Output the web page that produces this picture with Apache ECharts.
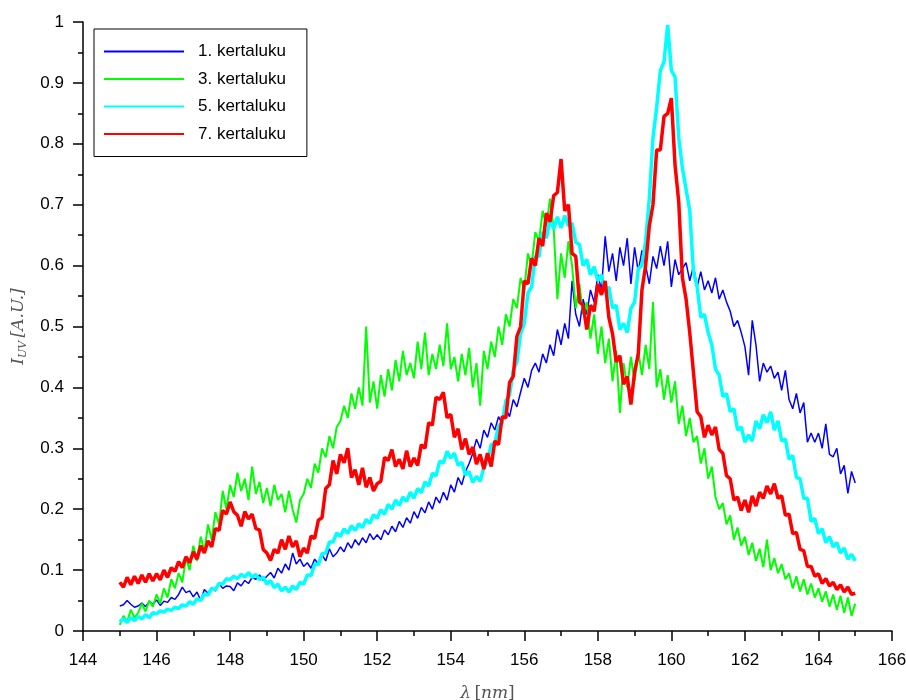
<!DOCTYPE html>
<html>
<head>
<meta charset="utf-8">
<script src="https://cdn.jsdelivr.net/npm/echarts@6/dist/echarts.min.js"></script>
<style>html,body{margin:0;padding:0;background:#fff}#c{width:906px;height:700px}</style>
</head>
<body>
<div id="c"></div>
<script>
// Sampling grid of the spectra (nm)
const wavelengthStart = 145.0;
const wavelengthStep = 0.1;

const seriesNames = ['1. kertaluku', '3. kertaluku', '5. kertaluku', '7. kertaluku'];

// 1. kertaluku (rows = 1 nm each, 145.0 ... 165.0)
const order1 = [
0.041,0.043,0.050,0.044,0.039,0.041,0.046,0.040,0.048,0.044,
0.051,0.042,0.049,0.047,0.055,0.052,0.060,0.072,0.063,0.066,
0.056,0.064,0.050,0.068,0.062,0.071,0.066,0.078,0.070,0.074,
0.073,0.066,0.079,0.074,0.083,0.078,0.088,0.085,0.092,0.083,
0.090,0.096,0.087,0.103,0.095,0.110,0.100,0.128,0.110,0.118,
0.106,0.112,0.103,0.118,0.110,0.125,0.115,0.135,0.122,0.128,
0.138,0.130,0.145,0.136,0.150,0.141,0.153,0.145,0.160,0.150,
0.158,0.150,0.166,0.158,0.172,0.163,0.180,0.170,0.186,0.177,
0.196,0.185,0.203,0.194,0.212,0.200,0.220,0.210,0.228,0.215,
0.240,0.228,0.252,0.240,0.262,0.275,0.292,0.315,0.300,0.330,
0.318,0.342,0.330,0.352,0.340,0.365,0.352,0.380,0.368,0.392,
0.415,0.400,0.428,0.440,0.425,0.455,0.440,0.470,0.452,0.495,
0.470,0.505,0.480,0.575,0.520,0.500,0.545,0.520,0.560,0.540,
0.585,0.560,0.648,0.590,0.620,0.575,0.630,0.600,0.645,0.570,
0.630,0.590,0.625,0.600,0.570,0.615,0.595,0.632,0.600,0.640,
0.565,0.610,0.585,0.595,0.605,0.575,0.600,0.565,0.590,0.560,
0.575,0.555,0.580,0.545,0.560,0.540,0.525,0.500,0.510,0.490,
0.467,0.420,0.510,0.470,0.410,0.440,0.425,0.435,0.415,0.425,
0.395,0.428,0.380,0.365,0.390,0.358,0.375,0.310,0.325,0.310,
0.325,0.300,0.340,0.290,0.286,0.300,0.258,0.272,0.226,0.262,
0.243];

// 3. kertaluku
const order3 = [
0.010,0.025,0.015,0.035,0.022,0.030,0.045,0.032,0.050,0.040,
0.060,0.045,0.070,0.055,0.085,0.070,0.095,0.080,0.120,0.100,
0.140,0.115,0.155,0.130,0.175,0.150,0.195,0.175,0.230,0.200,
0.240,0.220,0.260,0.230,0.250,0.215,0.270,0.225,0.245,0.210,
0.235,0.205,0.240,0.215,0.225,0.195,0.230,0.200,0.178,0.215,
0.225,0.250,0.235,0.275,0.260,0.300,0.285,0.320,0.300,0.335,
0.345,0.370,0.350,0.390,0.365,0.400,0.370,0.500,0.375,0.410,
0.365,0.420,0.385,0.430,0.395,0.445,0.410,0.460,0.420,0.440,
0.415,0.475,0.430,0.490,0.420,0.455,0.430,0.470,0.435,0.505,
0.430,0.450,0.410,0.455,0.420,0.465,0.400,0.440,0.370,0.460,
0.430,0.475,0.450,0.500,0.470,0.520,0.500,0.545,0.530,0.580,
0.560,0.620,0.600,0.655,0.640,0.690,0.665,0.710,0.660,0.545,
0.620,0.580,0.640,0.600,0.530,0.570,0.520,0.540,0.480,0.520,
0.455,0.500,0.440,0.480,0.410,0.460,0.358,0.440,0.400,0.450,
0.410,0.460,0.420,0.470,0.430,0.540,0.400,0.430,0.380,0.420,
0.375,0.410,0.340,0.370,0.320,0.350,0.310,0.320,0.275,0.300,
0.250,0.270,0.220,0.200,0.210,0.175,0.190,0.150,0.170,0.140,
0.155,0.125,0.145,0.115,0.135,0.105,0.150,0.100,0.120,0.095,
0.110,0.085,0.095,0.070,0.090,0.065,0.085,0.060,0.078,0.055,
0.070,0.048,0.065,0.040,0.060,0.035,0.058,0.030,0.055,0.025,
0.045];

// 5. kertaluku
const order5 = [
0.015,0.020,0.014,0.022,0.017,0.024,0.020,0.027,0.022,0.030,
0.028,0.033,0.031,0.036,0.034,0.039,0.037,0.043,0.041,0.048,
0.044,0.053,0.050,0.061,0.059,0.070,0.068,0.078,0.077,0.086,
0.084,0.090,0.086,0.093,0.089,0.096,0.088,0.093,0.084,0.089,
0.077,0.083,0.071,0.077,0.066,0.072,0.064,0.074,0.068,0.080,
0.077,0.092,0.091,0.110,0.109,0.127,0.128,0.146,0.146,0.161,
0.155,0.168,0.160,0.173,0.165,0.176,0.170,0.183,0.177,0.191,
0.185,0.199,0.192,0.208,0.200,0.215,0.206,0.220,0.213,0.228,
0.218,0.234,0.227,0.245,0.238,0.259,0.255,0.279,0.276,0.295,
0.284,0.292,0.272,0.277,0.256,0.262,0.244,0.254,0.246,0.268,
0.278,0.306,0.308,0.337,0.342,0.378,0.387,0.428,0.442,0.488,
0.505,0.555,0.565,0.615,0.615,0.655,0.645,0.675,0.660,0.680,
0.662,0.682,0.665,0.670,0.638,0.635,0.600,0.610,0.585,0.598,
0.575,0.585,0.555,0.565,0.530,0.535,0.495,0.505,0.490,0.530,
0.540,0.595,0.600,0.640,0.710,0.810,0.860,0.920,0.935,0.995,
0.920,0.910,0.810,0.760,0.725,0.690,0.590,0.565,0.515,0.520,
0.490,0.470,0.430,0.420,0.385,0.390,0.360,0.365,0.330,0.335,
0.310,0.322,0.312,0.345,0.332,0.355,0.342,0.360,0.330,0.345,
0.312,0.315,0.282,0.288,0.252,0.250,0.218,0.218,0.180,0.185,
0.160,0.168,0.145,0.155,0.138,0.145,0.128,0.136,0.118,0.126,
0.115];

// 7. kertaluku
const order7 = [
0.080,0.072,0.088,0.076,0.090,0.078,0.092,0.080,0.094,0.082,
0.094,0.084,0.100,0.088,0.104,0.098,0.114,0.104,0.122,0.112,
0.130,0.118,0.140,0.128,0.148,0.138,0.168,0.165,0.198,0.192,
0.212,0.196,0.190,0.172,0.196,0.184,0.192,0.168,0.166,0.134,
0.128,0.116,0.134,0.128,0.150,0.134,0.156,0.138,0.148,0.122,
0.136,0.128,0.156,0.152,0.182,0.186,0.234,0.240,0.280,0.258,
0.290,0.276,0.300,0.252,0.265,0.240,0.268,0.236,0.252,0.230,
0.242,0.246,0.285,0.280,0.298,0.270,0.282,0.266,0.296,0.270,
0.284,0.272,0.306,0.300,0.342,0.338,0.384,0.380,0.392,0.350,
0.356,0.318,0.332,0.298,0.316,0.290,0.302,0.274,0.290,0.266,
0.292,0.270,0.312,0.306,0.352,0.350,0.408,0.418,0.484,0.500,
0.575,0.570,0.612,0.600,0.645,0.632,0.686,0.672,0.715,0.720,
0.775,0.690,0.700,0.620,0.615,0.540,0.535,0.495,0.535,0.525,
0.570,0.552,0.575,0.515,0.488,0.442,0.452,0.405,0.418,0.372,
0.425,0.455,0.560,0.600,0.665,0.700,0.790,0.790,0.845,0.850,
0.875,0.765,0.705,0.580,0.545,0.490,0.425,0.360,0.352,0.318,
0.338,0.322,0.335,0.298,0.292,0.255,0.250,0.215,0.220,0.198,
0.215,0.195,0.222,0.205,0.228,0.218,0.238,0.225,0.242,0.218,
0.222,0.190,0.192,0.160,0.162,0.134,0.132,0.106,0.106,0.090,
0.094,0.078,0.086,0.074,0.080,0.068,0.076,0.064,0.072,0.060,
0.062];

const allSeries = [order1, order3, order5, order7];
const colors = ['#0000ff', '#00ff00', '#00ffff', '#ff0000'];
const widths = [1.5, 2, 3.5, 3.5];

function pairs(vals) {
  return vals.map((v, i) => [+(wavelengthStart + i * wavelengthStep).toFixed(2), v]);
}

const chart = echarts.init(document.getElementById('c'), null, {renderer: 'canvas'});
const labelFont = {color: '#000', fontSize: 17, fontFamily: 'Liberation Sans, Arial, sans-serif'};
const axisBase = {
  axisLine: {show: true, onZero: false, lineStyle: {color: '#000', width: 1.5}},
  axisTick: {show: true, inside: false, length: 10, lineStyle: {color: '#000', width: 1.5}},
  minorTick: {show: true, splitNumber: 2, length: 5, lineStyle: {color: '#000', width: 1.5}},
  splitLine: {show: false},
  minorSplitLine: {show: false}
};

chart.setOption({
  animation: false,
  backgroundColor: '#fff',
  color: colors,
  grid: {left: 83, right: 14, top: 22, bottom: 69, containLabel: false, outerBoundsMode: 'none'},
  legend: {
    orient: 'vertical',
    left: 94, top: 29,
    data: seriesNames,
    itemWidth: 80, itemHeight: 14, itemGap: 10.5,
    padding: [14, 21, 14, 10],
    borderColor: '#000', borderWidth: 1,
    backgroundColor: '#fff',
    textStyle: {color: '#000', fontSize: 17, fontFamily: 'Liberation Sans, Arial, sans-serif', padding: [0, 0, 0, 9]},
    icon: 'path://M0,0 L80,0 L80,2 L0,2 Z'
  },
  xAxis: Object.assign({}, axisBase, {
    type: 'value', min: 144, max: 166, interval: 2,
    axisLabel: Object.assign({margin: 21}, labelFont),
    name: '{g|λ} {n|[}{i|nm}{n|]}',
    nameLocation: 'middle', nameGap: 54,
    nameTextStyle: {
      rich: {
        g: {fontFamily: 'DejaVu Serif, serif', fontStyle: 'italic', fontSize: 17, color: '#555'},
        n: {fontFamily: 'DejaVu Serif, serif', fontSize: 17, color: '#555'},
        i: {fontFamily: 'DejaVu Serif, serif', fontStyle: 'italic', fontSize: 17, color: '#555'}
      }
    }
  }),
  yAxis: Object.assign({}, axisBase, {
    type: 'value', min: 0, max: 1, interval: 0.1,
    axisLabel: Object.assign({margin: 19}, labelFont),
    name: '{i|I}{s|UV} {n|[A.U.]}',
    nameLocation: 'middle', nameGap: 54,
    nameTextStyle: {
      rich: {
        i: {fontFamily: 'DejaVu Serif, serif', fontStyle: 'italic', fontSize: 17, color: '#555'},
        s: {fontFamily: 'DejaVu Serif, serif', fontStyle: 'italic', fontSize: 11, color: '#555', padding: [10, 0, 0, 0]},
        n: {fontFamily: 'DejaVu Serif, serif', fontStyle: 'italic', fontSize: 17, color: '#555'}
      }
    }
  }),
  series: allSeries.map((vals, k) => ({
    name: seriesNames[k],
    type: 'line',
    data: pairs(vals),
    showSymbol: false,
    symbol: 'none',
    lineStyle: {color: colors[k], width: widths[k]},
    itemStyle: {color: colors[k]},
    emphasis: {disabled: true}
  }))
});
</script>
</body>
</html>
